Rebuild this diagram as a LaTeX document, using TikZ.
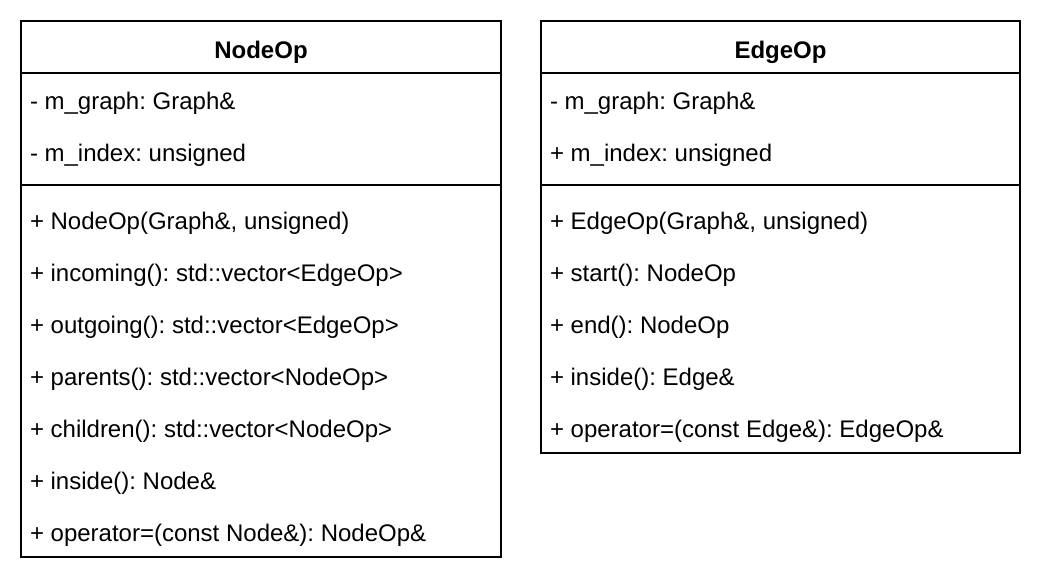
\documentclass[tikz,border=0pt]{standalone}
\usepackage{fontspec}
\setmainfont{Liberation Sans}
\frenchspacing
\begin{document}
\begin{tikzpicture}[x=1pt,y=-1pt,line width=2pt,
  classname/.style={font=\fontsize{24}{29}\selectfont\bfseries,anchor=base,inner sep=0pt},
  member/.style={font=\fontsize{24}{29}\selectfont,anchor=base west,inner sep=0pt}]
  \useasboundingbox (0,0) rectangle (1044,584);
  % NodeOp class: name, fields, then methods.
  \draw (21,21) rectangle (501,557);
  \draw (21,73) -- (501,73);
  \draw (21,185) -- (501,185);
  \node[classname] (nodeop) at (261,58) {NodeOp};
  \node[member] (nodeopf1) at (29,109) {- m\_graph: Graph\&};
  \node[member] (nodeopf2) at (29,161) {- m\_index: unsigned};
  \foreach \txt [count=\i] in {{+ NodeOp(Graph\&, unsigned)},
      {+ incoming(): std::vector<EdgeOp>},{+ outgoing(): std::vector<EdgeOp>},
      {+ parents(): std::vector<NodeOp>},{+ children(): std::vector<NodeOp>},
      {+ inside(): Node\&},{+ operator=(const Node\&): NodeOp\&}}
    \node[member] (nodeopm\i) at (29,229+52*\i-52) {\txt};
  % EdgeOp class, same layout with fewer methods.
  \draw (541,21) rectangle (1020,453);
  \draw (541,73) -- (1020,73);
  \draw (541,185) -- (1020,185);
  \node[classname] (edgeop) at (780.5,58) {EdgeOp};
  \node[member] (edgeopf1) at (549,109) {- m\_graph: Graph\&};
  \node[member] (edgeopf2) at (549,161) {+ m\_index: unsigned};
  \foreach \txt [count=\i] in {{+ EdgeOp(Graph\&, unsigned)},
      {+ start(): NodeOp},{+ end(): NodeOp},{+ inside(): Edge\&},
      {+ operator=(const Edge\&): EdgeOp\&}}
    \node[member] (edgeopm\i) at (549,229+52*\i-52) {\txt};
\end{tikzpicture}
\end{document}
